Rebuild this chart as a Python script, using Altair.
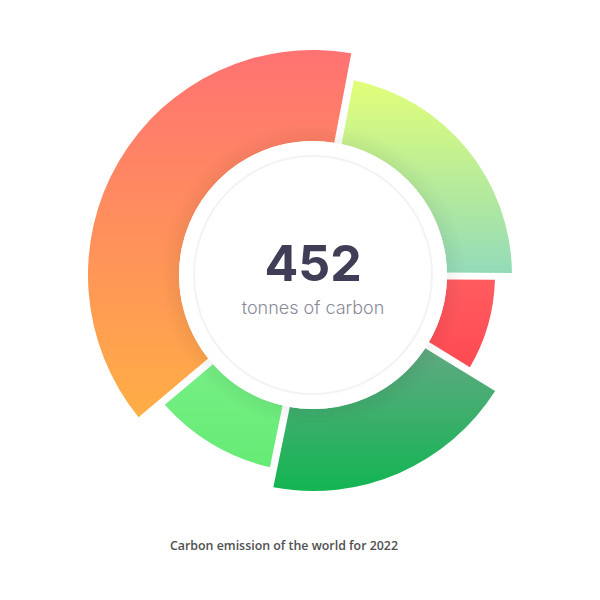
import math
import altair as alt
import pandas as pd

# ---- data ----
categories = ["Segment A", "Segment B", "Segment C", "Segment D", "Segment E"]
values = [100, 39, 88, 48, 177]
center_value = ["452"]
center_label = ["tonnes of carbon"]
caption = ["Carbon emission of the world for 2022"]

# ---- styles ----
CX, CY = 313, 275
INNER = 134
outer_r = {"Segment A": 199, "Segment B": 182, "Segment C": 216,
           "Segment D": 197, "Segment E": 225}
grad_cols = {
    "Segment A": ("#E1FE78", "#93DBB8"),
    "Segment B": ("#FF5C60", "#FF4A52"),
    "Segment C": ("#60A982", "#13B552"),
    "Segment D": ("#76EF84", "#66EB76"),
    "Segment E": ("#FF7272", "#FFAE45"),
}
offset = math.radians(10.8)

df = pd.DataFrame({"category": categories, "value": values,
                   "order": list(range(len(values)))})
total = sum(values)
theta_scale = alt.Scale(domain=[0, total], range=[offset, offset + 2 * math.pi])

base = alt.Chart(df).transform_window(
    end="sum(value)", sort=[alt.SortField("order")], frame=[None, 0]
).transform_calculate(start="datum.end - datum.value")

layers = []
for cat in categories:
    c0, c1 = grad_cols[cat]
    grad = {"gradient": "linear", "x1": 0, "y1": 0, "x2": 0, "y2": 1,
            "stops": [{"offset": 0, "color": c0}, {"offset": 1, "color": c1}]}
    layers.append(
        base.transform_filter(alt.datum.category == cat)
        .mark_arc(radius=outer_r[cat], radius2=INNER, padAngle=0.03, fill=grad)
        .encode(theta=alt.Theta("start:Q", scale=theta_scale),
                theta2=alt.Theta2("end:Q"),
                x=alt.value(CX), y=alt.value(CY))
    )

one = pd.DataFrame({"k": [0]})
shadow = {"gradient": "radial", "x1": 0.5, "y1": 0.5, "r1": 0,
          "x2": 0.5, "y2": 0.5, "r2": 0.5,
          "stops": [{"offset": 0.0, "color": "rgba(0,0,0,0.05)"},
                    {"offset": 0.88, "color": "rgba(0,0,0,0.05)"},
                    {"offset": 1.0, "color": "rgba(0,0,0,0)"}]}
shadow_ring = alt.Chart(one).mark_arc(
    radius=152, radius2=INNER - 2, theta=0, theta2=2 * math.pi, fill=shadow
).encode(x=alt.value(CX), y=alt.value(CY))

disk = alt.Chart(one).mark_arc(
    radius=INNER, radius2=0, theta=0, theta2=2 * math.pi, fill="#FFFFFF"
).encode(x=alt.value(CX), y=alt.value(CY))

ring = alt.Chart(one).mark_arc(
    radius=120, radius2=118, theta=0, theta2=2 * math.pi, fill="#F3F3F3"
).encode(x=alt.value(CX), y=alt.value(CY))

t_val = alt.Chart(pd.DataFrame({"t": center_value})).mark_text(
    font="Inter", fontSize=50, fontWeight="bold", color="#403E57",
    baseline="alphabetic", align="center"
).encode(text="t:N", x=alt.value(CX), y=alt.value(281))

t_lab = alt.Chart(pd.DataFrame({"t": center_label})).mark_text(
    font="Inter", fontSize=18, fontWeight=300, color="#8A8A99",
    baseline="alphabetic", align="center"
).encode(text="t:N", x=alt.value(CX), y=alt.value(314))

t_cap = alt.Chart(pd.DataFrame({"t": caption})).mark_text(
    font="Open Sans", fontSize=12.4, fontWeight=600, color="#505050",
    baseline="alphabetic", align="center"
).encode(text="t:N", x=alt.value(284), y=alt.value(550))

chart = alt.layer(*layers, shadow_ring, disk, ring, t_val, t_lab, t_cap).properties(
    width=600, height=600, autosize=alt.AutoSizeParams(type="none"), padding=0,
    background="#FFFFFF"
).configure_view(stroke=None)

chart.save("out.html", embed_options={"renderer": "svg", "actions": False})
